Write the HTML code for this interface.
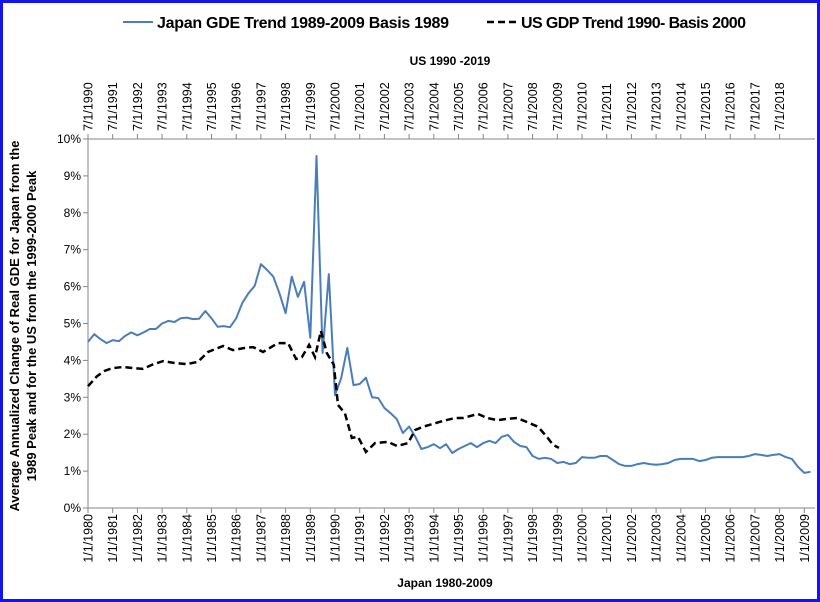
<!DOCTYPE html>
<html><head><meta charset="utf-8"><style>
html,body{margin:0;padding:0;background:#fff}
svg{display:block;font-family:"Liberation Sans",Arial,sans-serif}
</style></head><body>
<svg id="c" width="820" height="602" viewBox="0 0 820 602">
<rect x="1.5" y="1.5" width="817" height="599" fill="#fff" stroke="#1414f0" stroke-width="3"/>
<g>
<g>
<line x1="123" y1="22" x2="153" y2="22" stroke="#4a7ebb" stroke-width="2"/>
<text x="157" y="28" font-size="16" font-weight="bold" textLength="292">Japan GDE Trend 1989-2009 Basis 1989</text></g>
<g>
<line x1="487" y1="22" x2="517" y2="22" stroke="#000" stroke-width="2.5" stroke-dasharray="7,4"/>
<text x="521" y="28" font-size="16" font-weight="bold" textLength="225">US GDP Trend 1990-  Basis 2000</text></g>
</g>
<text x="450" y="65" font-size="12" font-weight="bold" text-anchor="middle">US 1990 -2019</text>
<text x="445" y="587" font-size="12" font-weight="bold" text-anchor="middle">Japan 1980-2009</text>
<text transform="translate(19,326) rotate(-90)" font-size="13" font-weight="bold" text-anchor="middle"><tspan x="0" y="0">Average Annualized Change of Real GDE for Japan from the</tspan><tspan x="0" y="17">1989 Peak  and  for the  US from the 1999-2000 Peak</tspan></text>
<g id="axes"></g>
<g id="marks"></g>
</svg>
<script>
const jpStartYear = 1980;
const jpValues = [4.5,4.71,4.58,4.47,4.55,4.52,4.66,4.76,4.68,4.76,4.85,4.85,5.0,5.07,5.04,5.14,5.16,5.12,5.13,5.34,5.14,4.91,4.93,4.9,5.14,5.56,5.82,6.02,6.61,6.45,6.27,5.82,5.28,6.27,5.72,6.13,4.61,9.54,4.2,6.34,3.06,3.52,4.34,3.33,3.36,3.53,3.0,2.98,2.71,2.57,2.41,2.03,2.21,1.93,1.6,1.65,1.73,1.62,1.73,1.49,1.6,1.68,1.76,1.65,1.76,1.82,1.76,1.93,1.98,1.79,1.68,1.65,1.41,1.33,1.36,1.33,1.22,1.25,1.19,1.22,1.38,1.36,1.36,1.41,1.41,1.30,1.19,1.14,1.14,1.19,1.22,1.19,1.17,1.19,1.22,1.30,1.33,1.33,1.33,1.27,1.30,1.36,1.38,1.38,1.38,1.38,1.38,1.41,1.46,1.44,1.41,1.44,1.46,1.38,1.33,1.11,0.95,0.98];
const usYears = [1990.5,1990.86,1991.19,1991.51,1991.92,1992.32,1992.73,1993.09,1993.54,1994.02,1994.47,1994.95,1995.36,1995.97,1996.37,1996.86,1997.18,1997.59,1998.19,1998.6,1998.92,1999.16,1999.45,1999.69,1999.93,2000.17,2000.45,2000.62,2000.9,2001.18,2001.43,2001.75,2002.12,2002.65,2003.01,2003.46,2003.74,2004.06,2004.47,2004.87,2005.36,2005.68,2006.29,2006.65,2007.1,2007.38,2007.87,2008.27,2008.72,2009.08,2009.33,2009.57];
const usValues = [3.3,3.57,3.72,3.79,3.82,3.79,3.77,3.88,3.98,3.93,3.9,3.96,4.23,4.39,4.28,4.34,4.36,4.23,4.47,4.47,4.04,4.09,4.42,4.09,4.8,4.2,3.88,2.79,2.57,1.9,1.93,1.52,1.76,1.79,1.68,1.76,2.11,2.2,2.28,2.36,2.44,2.44,2.55,2.44,2.38,2.41,2.44,2.33,2.2,1.93,1.71,1.63];
const yTicks = ["0%","1%","2%","3%","4%","5%","6%","7%","8%","9%","10%"];
const bottomLabels = [];for(let y=1980;y<=2009;y++)bottomLabels.push("1/1/"+y);
const topLabels = [];for(let y=1990;y<=2018;y++)topLabels.push("7/1/"+y);

const NS="http://www.w3.org/2000/svg";
const L=88,R=815,T=139,B=508,PPY=24.7;
const xJ=yr=>L+(yr-1980)*PPY;
const xU=yr=>L+(yr-1990.5)*PPY;
const yS=v=>B-(v/10)*(B-T);
function mk(tag,attrs,parent){const e=document.createElementNS(NS,tag);for(const k in attrs)e.setAttribute(k,attrs[k]);parent.appendChild(e);return e;}
const ax=document.getElementById('axes'),mg=document.getElementById('marks');
let e=mk('line',{x1:L,y1:T,x2:L,y2:B,stroke:'#868686'},ax);


e=mk('line',{x1:L,y1:B,x2:R,y2:B,stroke:'#868686'},ax);


e=mk('line',{x1:L,y1:T,x2:R,y2:T,stroke:'#868686'},ax);


yTicks.forEach((t,i)=>{const y=yS(i);
mk('line',{x1:L-5,y1:y,x2:L,y2:y,stroke:'#868686'},ax);
const tx=mk('text',{x:L-7,y:y+4,'font-size':12,'text-anchor':'end'},ax);tx.textContent=t;

});
bottomLabels.forEach((t,i)=>{const x=xJ(1980+i);
mk('line',{x1:x,y1:B,x2:x,y2:B+5,stroke:'#868686'},ax);
const tx=mk('text',{transform:`translate(${x+4.5},${B+6}) rotate(-90)`,'font-size':12.5,'text-anchor':'end'},ax);tx.textContent=t;

});
topLabels.forEach((t,i)=>{const x=xU(1990.5+i);
mk('line',{x1:x,y1:T-5,x2:x,y2:T,stroke:'#868686'},ax);
const tx=mk('text',{transform:`translate(${x+4.5},${T-8}) rotate(-90)`,'font-size':12.5,'text-anchor':'start'},ax);tx.textContent=t;

});
const jp=jpValues.map((v,i)=>xJ(jpStartYear+i/4).toFixed(1)+','+yS(v).toFixed(1)).join(' ');
e=mk('polyline',{points:jp,fill:'none',stroke:'#4a7ebb','stroke-width':2,'stroke-linejoin':'round'},mg);


const us=usValues.map((v,i)=>xU(usYears[i]).toFixed(1)+','+yS(v).toFixed(1)).join(' ');
e=mk('polyline',{points:us,fill:'none',stroke:'#000','stroke-width':2.5,'stroke-dasharray':'7,4'},mg);


</script>
</body></html>
